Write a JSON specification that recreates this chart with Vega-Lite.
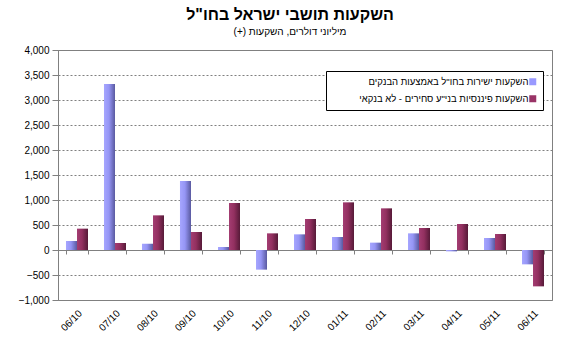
{
  "$schema": "https://vega.github.io/schema/vega-lite/v6.json",
  "width": 494,
  "height": 250,
  "autosize": {"type": "none"},
  "padding": {"left": 58, "top": 50, "right": 19, "bottom": 53},
  "background": "white",
  "title": {
    "text": "השקעות תושבי ישראל בחו\"ל",
    "subtitle": "(+) מיליוני דולרים, השקעות",
    "anchor": "middle",
    "dx": -15,
    "offset": 8,
    "font": "Liberation Sans",
    "fontSize": 16,
    "fontWeight": "bold",
    "color": "black",
    "subtitleFont": "Liberation Sans",
    "subtitleFontSize": 10,
    "subtitleColor": "black",
    "subtitlePadding": 4
  },
  "data": {
    "values": [
      {"month": "06/10", "series": "השקעות ישירות בחו\"ל באמצעות הבנקים", "value": 180},
      {"month": "06/10", "series": "השקעות פיננסיות בני\"ע סחירים - לא בנקאי", "value": 427},
      {"month": "07/10", "series": "השקעות ישירות בחו\"ל באמצעות הבנקים", "value": 3320},
      {"month": "07/10", "series": "השקעות פיננסיות בני\"ע סחירים - לא בנקאי", "value": 140},
      {"month": "08/10", "series": "השקעות ישירות בחו\"ל באמצעות הבנקים", "value": 127},
      {"month": "08/10", "series": "השקעות פיננסיות בני\"ע סחירים - לא בנקאי", "value": 693},
      {"month": "09/10", "series": "השקעות ישירות בחו\"ל באמצעות הבנקים", "value": 1380},
      {"month": "09/10", "series": "השקעות פיננסיות בני\"ע סחירים - לא בנקאי", "value": 360},
      {"month": "10/10", "series": "השקעות ישירות בחו\"ל באמצעות הבנקים", "value": 60},
      {"month": "10/10", "series": "השקעות פיננסיות בני\"ע סחירים - לא בנקאי", "value": 940},
      {"month": "11/10", "series": "השקעות ישירות בחו\"ל באמצעות הבנקים", "value": -393},
      {"month": "11/10", "series": "השקעות פיננסיות בני\"ע סחירים - לא בנקאי", "value": 333},
      {"month": "12/10", "series": "השקעות ישירות בחו\"ל באמצעות הבנקים", "value": 313},
      {"month": "12/10", "series": "השקעות פיננסיות בני\"ע סחירים - לא בנקאי", "value": 620},
      {"month": "01/11", "series": "השקעות ישירות בחו\"ל באמצעות הבנקים", "value": 260},
      {"month": "01/11", "series": "השקעות פיננסיות בני\"ע סחירים - לא בנקאי", "value": 953},
      {"month": "02/11", "series": "השקעות ישירות בחו\"ל באמצעות הבנקים", "value": 147},
      {"month": "02/11", "series": "השקעות פיננסיות בני\"ע סחירים - לא בנקאי", "value": 833},
      {"month": "03/11", "series": "השקעות ישירות בחו\"ל באמצעות הבנקים", "value": 333},
      {"month": "03/11", "series": "השקעות פיננסיות בני\"ע סחירים - לא בנקאי", "value": 440},
      {"month": "04/11", "series": "השקעות ישירות בחו\"ל באמצעות הבנקים", "value": -27},
      {"month": "04/11", "series": "השקעות פיננסיות בני\"ע סחירים - לא בנקאי", "value": 520},
      {"month": "05/11", "series": "השקעות ישירות בחו\"ל באמצעות הבנקים", "value": 240},
      {"month": "05/11", "series": "השקעות פיננסיות בני\"ע סחירים - לא בנקאי", "value": 320},
      {"month": "06/11", "series": "השקעות ישירות בחו\"ל באמצעות הבנקים", "value": -287},
      {"month": "06/11", "series": "השקעות פיננסיות בני\"ע סחירים - לא בנקאי", "value": -727}
    ]
  },
  "config": {
    "view": {"stroke": "#808080", "strokeWidth": 1},
    "axis": {
      "labelFont": "Liberation Sans",
      "labelFontSize": 10,
      "labelColor": "black",
      "domainColor": "#808080",
      "tickColor": "#808080",
      "title": null
    },
    "legend": {
      "labelFont": "Liberation Sans",
      "labelFontSize": 9.5,
      "labelColor": "black",
      "strokeColor": "#000000",
      "fillColor": "white",
      "padding": 6,
      "rowPadding": 6,
      "symbolType": "square",
      "symbolSize": 49,
      "symbolStrokeWidth": 0,
      "symbolOffset": 196,
      "labelAlign": "right",
      "labelOffset": -9,
      "labelLimit": 300
    }
  },
  "encoding": {
    "y": {
      "field": "value",
      "type": "quantitative",
      "scale": {"domain": [-1000, 4000], "nice": false, "zero": false},
      "axis": {
        "values": [-1000, -500, 0, 500, 1000, 1500, 2000, 2500, 3000, 3500, 4000],
        "labelOverlap": false,
        "format": ",.0f",
        "tickSize": 6,
        "labelPadding": 3,
        "grid": true,
        "gridColor": "#808080",
        "gridDash": [2, 2],
        "gridWidth": 1
      }
    }
  },
  "resolve": {"axis": {"x": "independent"}},
  "layer": [
    {
      "mark": {"type": "bar"},
      "encoding": {
        "x": {
          "field": "month",
          "type": "nominal",
          "sort": null,
          "scale": {"paddingInner": 0.42, "paddingOuter": 0.21},
          "axis": {
            "orient": "bottom",
            "labelAngle": -45,
            "labelAlign": "right",
            "labelBaseline": "top",
            "labelPadding": 8,
            "ticks": false,
            "domain": false,
            "grid": false
          }
        },
        "xOffset": {
          "field": "series",
          "type": "nominal",
          "sort": ["השקעות ישירות בחו\"ל באמצעות הבנקים", "השקעות פיננסיות בני\"ע סחירים - לא בנקאי"]
        },
        "color": {
          "field": "series",
          "type": "nominal",
          "sort": ["השקעות ישירות בחו\"ל באמצעות הבנקים", "השקעות פיננסיות בני\"ע סחירים - לא בנקאי"],
          "scale": {"range": ["#9999FF", "#993366"]},
          "condition": [
            {"test": {"field": "series", "equal": "השקעות ישירות בחו\"ל באמצעות הבנקים"}, "value": {"gradient": "linear", "x1": 0, "y1": 0, "x2": 1, "y2": 0, "stops": [{"offset": 0, "color": "#a6a6ff"}, {"offset": 0.45, "color": "#9595f5"}, {"offset": 1, "color": "#5a5aa0"}]}},
            {"test": {"field": "series", "equal": "השקעות פיננסיות בני\"ע סחירים - לא בנקאי"}, "value": {"gradient": "linear", "x1": 0, "y1": 0, "x2": 1, "y2": 0, "stops": [{"offset": 0, "color": "#a33d72"}, {"offset": 0.45, "color": "#933060"}, {"offset": 1, "color": "#561a38"}]}}
          ],
          "legend": {
            "title": null,
            "orient": "none",
            "legendX": 268,
            "legendY": 21
          }
        }
      }
    },
    {
      "mark": {"type": "point", "opacity": 0},
      "encoding": {
        "x": {
          "field": "month",
          "type": "nominal",
          "sort": null,
          "axis": {
            "orient": "bottom",
            "offset": -50,
            "labels": false,
            "ticks": true,
            "tickBand": "extent",
            "tickSize": 4,
            "domain": true,
            "grid": false
          }
        }
      }
    }
  ]
}
